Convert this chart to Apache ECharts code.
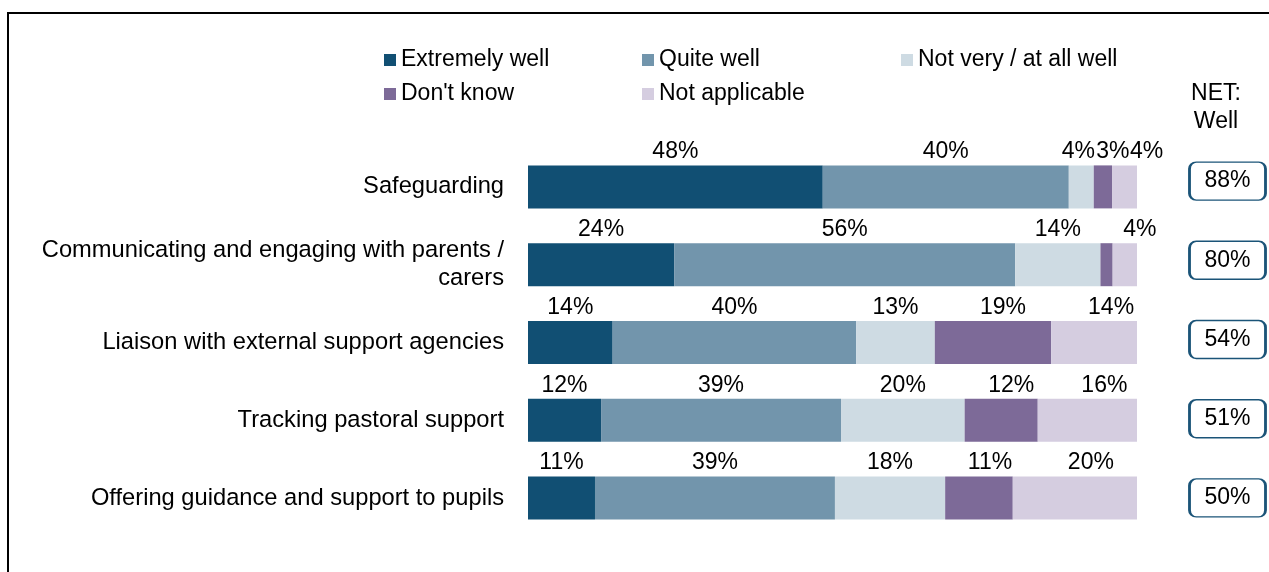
<!DOCTYPE html>
<html>
<head>
<meta charset="utf-8">
<script src="https://cdn.jsdelivr.net/npm/echarts@6/dist/echarts.min.js"></script>
<style>
html,body{margin:0;padding:0;background:#fff;}
#chart{width:1269px;height:572px;}
</style>
</head>
<body>
<div id="chart"></div>
<script>
const categories = [
  'Safeguarding',
  'Communicating and engaging with parents /\ncarers',
  'Liaison with external support agencies',
  'Tracking pastoral support',
  'Offering guidance and support to pupils'
];
const seriesNames = ['Extremely well', 'Quite well', 'Not very / at all well', "Don't know", 'Not applicable'];
const extremelyWell = [48.4, 24.0, 13.9, 12.0, 11.0];
const quiteWell = [40.4, 56.0, 40.0, 39.4, 39.4];
const notVeryWell = [4.1, 14.0, 12.9, 20.3, 18.1];
const dontKnow = [3.0, 2.0, 19.1, 12.0, 11.1];
const notApplicable = [4.1, 4.0, 14.1, 16.3, 20.4];
const netWell = [88, 80, 54, 51, 50];

const FONT = 'Arial, "Liberation Sans", sans-serif';
const FS = 23;
const colors = ['#114F73', '#7295AC', '#CEDBE3', '#7D6A98', '#D5CDE0'];
const values = [extremelyWell, quiteWell, notVeryWell, dontKnow, notApplicable];
// horizontal label nudges (as in the reference layout)
const labelShift = [
  [0, 0, 0, 0, 0],
  [0, 0, 0, 0, 0],
  [-3, 0, 0, 0, 0],
  [10, 10, 10, 10, 11],
  [22, 15, 17, 17, 16]
];

const barSeries = values.map((arr, s) => ({
  name: seriesNames[s],
  type: 'bar',
  stack: 'total',
  barWidth: 43,
  xAxisIndex: 0,
  yAxisIndex: 0,
  itemStyle: { color: colors[s] },
  label: {
    show: true,
    position: 'top',
    distance: 2,
    color: '#000',
    fontFamily: FONT,
    fontSize: FS,
    formatter: p => (p.value >= 2.5 ? Math.round(p.value) + '%' : '')
  },
  data: arr.map((v, i) => ({ value: v, label: { offset: [labelShift[s][i], 0] } }))
}));

const legendBase = {
  orient: 'vertical',
  top: 48,
  padding: 0,
  itemGap: 10,
  itemWidth: 12,
  itemHeight: 12,
  icon: 'rect',
  selectedMode: false,
  textStyle: { fontFamily: FONT, fontSize: FS, color: '#000', lineHeight: 24 }
};

const boxPath = 'path://M7,0 H71 A7,7 0 0 1 78,7 V33 A7,7 0 0 1 71,40 H7 A7,7 0 0 1 0,33 V7 A7,7 0 0 1 7,0 Z';

const option = {
  animation: false,
  backgroundColor: '#fff',
  legend: [
    Object.assign({}, legendBase, { left: 384, data: ['Extremely well', "Don't know"] }),
    Object.assign({}, legendBase, { left: 642, data: ['Quite well', 'Not applicable'] }),
    Object.assign({}, legendBase, { left: 901, data: ['Not very / at all well'] })
  ],
  grid: [
    { left: 528, right: 132, top: 148, height: 389 },
    { left: 1188, width: 79, top: 141.5, height: 396 }
  ],
  xAxis: [
    { type: 'value', gridIndex: 0, min: 0, max: 100, show: false },
    { type: 'value', gridIndex: 1, min: -1, max: 1, show: false }
  ],
  yAxis: [
    {
      type: 'category', gridIndex: 0, inverse: true, data: categories,
      axisLine: { show: false }, axisTick: { show: false }, splitLine: { show: false },
      axisLabel: { margin: 24, color: '#000', fontFamily: FONT, fontSize: 23.7, lineHeight: 28 }
    },
    {
      type: 'category', gridIndex: 1, inverse: true, data: categories, show: false
    }
  ],
  series: barSeries.concat([{
    name: 'NET: Well',
    type: 'scatter',
    xAxisIndex: 1,
    yAxisIndex: 1,
    symbol: boxPath,
    symbolKeepAspect: false,
    symbolSize: [76, 38],
    itemStyle: { color: '#fff', borderColor: '#1B5478', borderWidth: 2, opacity: 1 },
    label: {
      show: true,
      position: 'inside',
      color: '#000',
      fontFamily: FONT,
      fontSize: FS,
      formatter: p => p.value[2] + '%'
    },
    data: netWell.map((v, i) => [0, i, v])
  }]),
  graphic: [
    {
      type: 'rect', z: -1,
      shape: { x: 8, y: 13, width: 1400, height: 700 },
      style: { fill: 'none', stroke: '#000', lineWidth: 2 }
    },
    {
      type: 'text', x: 1216, y: 94,
      style: { text: 'NET:', font: FS + 'px ' + FONT, fill: '#000', textAlign: 'center', textVerticalAlign: 'middle' }
    },
    {
      type: 'text', x: 1216, y: 122,
      style: { text: 'Well', font: FS + 'px ' + FONT, fill: '#000', textAlign: 'center', textVerticalAlign: 'middle' }
    }
  ]
};

const chart = echarts.init(document.getElementById('chart'), null, { renderer: 'canvas' });
chart.setOption(option);
</script>
</body>
</html>
